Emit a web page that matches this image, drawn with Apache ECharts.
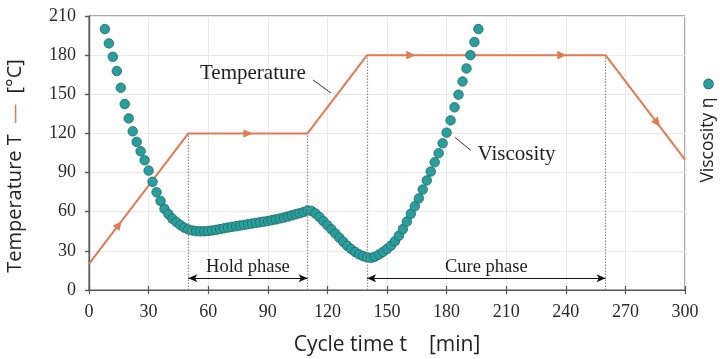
<!DOCTYPE html>
<html>
<head>
<meta charset="utf-8">
<script src="https://cdn.jsdelivr.net/npm/echarts@6/dist/echarts.min.js"></script>
<style>
  html, body { margin: 0; padding: 0; background: #ffffff; }
  #chart { width: 720px; height: 359px; }
</style>
</head>
<body>
<div id="chart"></div>
<script>
// Axis ticks
const cycleTicks = [0, 30, 60, 90, 120, 150, 180, 210, 240, 270, 300];
const tempTicks = [0, 30, 60, 90, 120, 150, 180, 210];

// Cure cycle temperature profile (min, °C)
const profileTime = [0, 50, 110, 140, 260, 300];
const profileTemp = [20, 120, 120, 180, 180, 100];

// Resin viscosity samples (plotted on the temperature scale)
const viscosityTime = [
  8, 10, 12, 14, 16, 18, 20, 22, 24, 26, 28, 30, 32, 34, 36, 38, 40, 42, 44, 46,
  48, 50, 52, 54, 56, 58, 60, 62, 64, 66, 68, 70, 72, 74, 76, 78, 80, 82, 84, 86,
  88, 90, 92, 94, 96, 98, 100, 102, 104, 106, 108, 110, 112, 114, 116, 118, 120, 122, 124, 126,
  128, 130, 132, 134, 136, 138, 140, 142, 144, 146, 148, 150, 152, 154, 156, 158, 160, 162, 164, 166,
  168, 170, 172, 174, 176, 178, 180, 182, 184, 186, 188, 190, 192, 194, 196
];
const viscosityValue = [
  200, 189, 178.7, 167.8, 155, 142.5, 131.5, 121.6, 113.5, 106.3, 99.4, 91.5, 82.9, 74.9, 68.3, 62.2, 58.1, 54.6, 52.0, 49.7,
  47.7, 46.4, 45.6, 45.1, 45.0, 45.0, 45.2, 45.6, 46.1, 46.7, 47.3, 47.9, 48.4, 48.9, 49.4, 49.9, 50.4, 50.9, 51.4, 51.9,
  52.4, 52.9, 53.5, 54.1, 54.8, 55.5, 56.3, 57.2, 58.0, 58.8, 59.7, 61.0, 60.6, 58.6, 55.9, 52.7, 49.6, 46.5, 43.3, 40.1,
  36.9, 33.9, 31.3, 29.1, 27.3, 25.9, 25.0, 24.7, 25.5, 27.2, 29.2, 31.4, 34.0, 37.4, 41.6, 46.7, 52.5, 58.4, 64.2, 70.2,
  77.0, 84.0, 90.8, 97.9, 104.8, 112.4, 120.6, 130.0, 140.0, 149.7, 159.8, 169.8, 180.0, 190.0, 200.0
];

// Flow-direction arrowheads sitting on the temperature profile
const arrowTime = [15, 80, 162, 238, 286];
const arrowTemp = [50, 120, 180, 180, 128];

// Phase markers
const phaseBoundaryTime = [50, 110, 140, 260];
const phaseBoundaryTop = [120, 120, 180, 180];
const phaseNames = ['Hold phase', 'Cure phase'];
const phaseStart = [50, 140];
const phaseEnd = [110, 260];
const phaseLabelTime = [80, 200];
const phaseArrowLevel = 9;
const phaseLabelLevel = 17.3;

// Callout labels with their leader lines
const calloutNames = ['Temperature', 'Viscosity'];
const calloutAt = [[82.5, 165.7], [215.2, 103.5]];
const leaderFrom = [[112.7, 161], [184.2, 117]];
const leaderTo = [[121.8, 151], [192.2, 107]];

const ORANGE = '#e27a52';
const TEAL = '#2a9e9c';
const TEAL_EDGE = '#1b6a68';
const AXIS = '#555555';
const SERIF = '"Liberation Serif", "DejaVu Serif", serif';
const SANS = '"Open Sans", "Noto Sans", sans-serif';

const step = cycleTicks[1] - cycleTicks[0];
const tStep = tempTicks[1] - tempTicks[0];

// direction of each arrowhead: the end of the profile segment it lies on
const arrowData = arrowTime.map((t, i) => {
  let k = 0;
  while (k < profileTime.length - 2 && t > profileTime[k + 1]) k++;
  return [t, arrowTemp[i], profileTime[k + 1], profileTemp[k + 1]];
});

const markLines = [];
phaseBoundaryTime.forEach((t, i) => {
  markLines.push([
    { coord: [t, 0], symbol: 'none', lineStyle: { type: [1.5, 1.5], color: '#8c8c8c', width: 1.2 } },
    { coord: [t, phaseBoundaryTop[i]], symbol: 'none' }
  ]);
});
phaseStart.forEach((t, i) => {
  markLines.push([
    { coord: [t, phaseArrowLevel], symbol: 'arrow', symbolSize: [6, 9], lineStyle: { type: 'solid', color: '#111', width: 1 } },
    { coord: [phaseEnd[i], phaseArrowLevel], symbol: 'arrow', symbolSize: [6, 9] }
  ]);
});
leaderFrom.forEach((p, i) => {
  markLines.push([
    { coord: p, symbol: 'none', lineStyle: { type: 'solid', color: '#333', width: 1 } },
    { coord: leaderTo[i], symbol: 'none' }
  ]);
});

const textPoints = [];
calloutNames.forEach((name, i) => {
  textPoints.push({ coord: calloutAt[i], name: name, label: { fontSize: 21 } });
});
phaseNames.forEach((name, i) => {
  textPoints.push({ coord: [phaseLabelTime[i], phaseLabelLevel], name: name, label: { fontSize: 18.5 } });
});

const chart = echarts.init(document.getElementById('chart'), null, { renderer: 'canvas' });

chart.setOption({
  animation: false,
  backgroundColor: '#ffffff',
  grid: {
    left: 89, right: 35, top: 16, bottom: 69,
    containLabel: false, outerBoundsMode: 'none',
    show: true, borderColor: AXIS, borderWidth: 1
  },
  xAxis: [
    {
      type: 'value', position: 'bottom',
      min: cycleTicks[0], max: cycleTicks[cycleTicks.length - 1], interval: step,
      axisLine: { show: true, lineStyle: { color: AXIS, width: 1.2 } },
      axisTick: { show: true, length: 4, lineStyle: { color: AXIS, width: 1.2 } },
      axisLabel: { fontFamily: SERIF, fontSize: 18, color: '#2a2a2a', margin: 13 },
      splitLine: { show: true, lineStyle: { color: '#e9e9e9', width: 1 } },
      name: 'Cycle time t    [min]',
      nameLocation: 'middle', nameGap: 45,
      nameTextStyle: { fontFamily: SANS, fontSize: 21, color: '#222' }
    },
    {
      type: 'value', position: 'bottom',
      min: cycleTicks[0], max: cycleTicks[cycleTicks.length - 1], interval: step,
      axisLine: { show: false },
      axisTick: { show: true, inside: true, length: 4, lineStyle: { color: AXIS, width: 1.2 } },
      axisLabel: { show: false },
      splitLine: { show: false }
    }
  ],
  yAxis: [
    {
      type: 'value', position: 'left',
      min: tempTicks[0], max: tempTicks[tempTicks.length - 1], interval: tStep,
      axisLine: { show: true, lineStyle: { color: AXIS, width: 1.2 } },
      axisTick: { show: true, length: 4, lineStyle: { color: AXIS, width: 1.2 } },
      axisLabel: { fontFamily: SERIF, fontSize: 18, color: '#2a2a2a', margin: 13 },
      splitLine: { show: true, lineStyle: { color: '#e9e9e9', width: 1 } }
    },
    {
      type: 'value', position: 'right',
      min: tempTicks[0], max: tempTicks[tempTicks.length - 1], interval: tStep,
      axisLine: { show: true, lineStyle: { color: AXIS, width: 1.2 } },
      axisTick: { show: true, inside: true, length: 4, lineStyle: { color: AXIS, width: 1.2 } },
      axisLabel: { show: false },
      splitLine: { show: false }
    }
  ],
  series: [
    {
      name: 'Temperature',
      type: 'line',
      xAxisIndex: 0, yAxisIndex: 0,
      data: profileTime.map((t, i) => [t, profileTemp[i]]),
      showSymbol: false, symbol: 'none',
      lineStyle: { color: ORANGE, width: 2 },
      itemStyle: { color: ORANGE },
      z: 2,
      markLine: {
        silent: true,
        label: { show: false },
        emphasis: { disabled: true },
        data: markLines
      }
    },
    {
      name: 'Flow',
      type: 'custom',
      xAxisIndex: 0, yAxisIndex: 0,
      data: arrowData,
      encode: { x: 0, y: 1 },
      z: 3,
      renderItem: function (params, api) {
        const p = api.coord([api.value(0), api.value(1)]);
        const q = api.coord([api.value(2), api.value(3)]);
        const a = Math.atan2(q[1] - p[1], q[0] - p[0]);
        const c = Math.cos(a), s = Math.sin(a);
        const L = 9, W = 4.3;
        const tip = [p[0] + c * L / 2, p[1] + s * L / 2];
        const base = [p[0] - c * L / 2, p[1] - s * L / 2];
        return {
          type: 'polygon',
          shape: { points: [tip, [base[0] - s * W, base[1] + c * W], [base[0] + s * W, base[1] - c * W]] },
          style: { fill: ORANGE }
        };
      }
    },
    {
      name: 'Viscosity',
      type: 'scatter',
      xAxisIndex: 0, yAxisIndex: 0,
      data: viscosityTime.map((t, i) => [t, viscosityValue[i]]),
      symbol: 'circle', symbolSize: 9.5,
      itemStyle: { color: TEAL, borderColor: TEAL_EDGE, borderWidth: 0.8, opacity: 1 },
      z: 4,
      markPoint: {
        silent: true,
        symbol: 'circle', symbolSize: 1,
        itemStyle: { color: 'rgba(0,0,0,0)' },
        label: {
          show: true, position: 'inside',
          formatter: '{b}',
          fontFamily: SERIF, color: '#1e1e1e'
        },
        data: textPoints
      }
    }
  ],
  graphic: [
    {
      type: 'text',
      x: 15.5, y: 166,
      rotation: Math.PI / 2,
      style: {
        text: 'Temperature T  {d|—}  [°C]',
        fontFamily: SANS, fontSize: 20, fill: '#222',
        align: 'center', verticalAlign: 'middle',
        textAlign: 'center', textVerticalAlign: 'middle',
        rich: { d: { fill: ORANGE, color: ORANGE, fontFamily: SANS, fontSize: 20 } }
      }
    },
    {
      type: 'text',
      x: 708.5, y: 131,
      rotation: Math.PI / 2,
      style: {
        text: 'Viscosity η  {dot|}',
        fontFamily: SANS, fontSize: 17.5, fill: '#222',
        align: 'center', verticalAlign: 'middle',
        textAlign: 'center', textVerticalAlign: 'middle',
        rich: {
          dot: {
            width: 9, height: 9,
            backgroundColor: TEAL, borderColor: TEAL_EDGE, borderWidth: 0.8, borderRadius: 4.5
          }
        }
      }
    }
  ]
});
</script>
</body>
</html>
